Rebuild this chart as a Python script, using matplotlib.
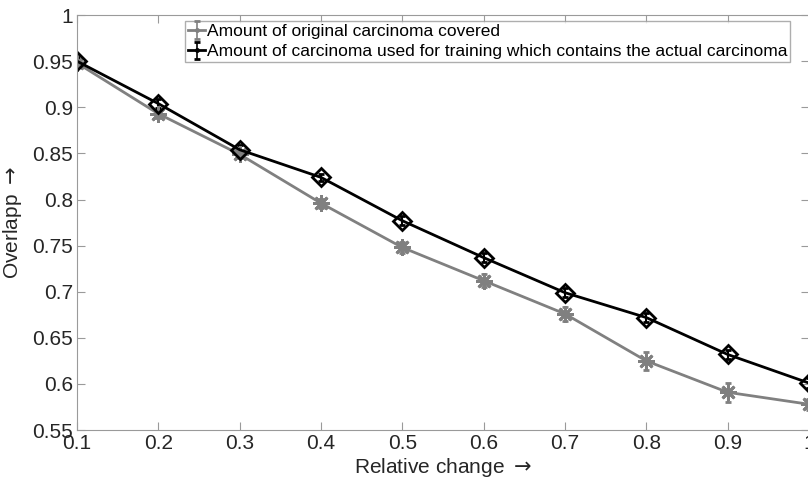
import numpy as np
import matplotlib.pyplot as plt
from matplotlib.lines import Line2D
from matplotlib.legend_handler import HandlerErrorbar
from matplotlib.container import ErrorbarContainer

plt.rcParams['font.family'] = ['Liberation Sans', 'DejaVu Sans']

rel_change = [0.1, 0.2, 0.3, 0.4, 0.5, 0.6, 0.7, 0.8, 0.9, 1.0]
covered = [0.948, 0.893, 0.849, 0.796, 0.748, 0.712, 0.676, 0.625, 0.591, 0.578]
covered_err = [0.004, 0.005, 0.004, 0.005, 0.006, 0.007, 0.008, 0.010, 0.010, 0.006]
training = [0.950, 0.904, 0.854, 0.824, 0.777, 0.737, 0.699, 0.672, 0.632, 0.601]
training_err = [0.004, 0.005, 0.005, 0.004, 0.005, 0.005, 0.005, 0.005, 0.005, 0.005]

grey = '#808080'

fig = plt.figure(figsize=(8.08, 4.86), dpi=100)
ax = fig.add_axes([0.0953, 0.115, 0.906, 0.854])

ax.errorbar(rel_change, covered, yerr=covered_err, color=grey, lw=2,
            marker=(8, 2, 0), ms=12, mew=2, capsize=2, elinewidth=1.5,
            label='Amount of original carcinoma covered')
ax.errorbar(rel_change, training, yerr=training_err, color='black', lw=2,
            marker='D', ms=9, mew=2, mfc='none', capsize=2, elinewidth=1.5,
            label='Amount of carcinoma used for training which contains the actual carcinoma')

ax.set_xlim(0.1, 1.0)
ax.set_ylim(0.55, 1.0)
ax.set_xticks(np.arange(0.1, 1.01, 0.1))
ax.set_xticklabels(['0.1', '0.2', '0.3', '0.4', '0.5', '0.6', '0.7', '0.8', '0.9', '1'])
ax.set_yticks(np.arange(0.55, 1.001, 0.05))
ax.set_yticklabels(['0.55', '0.6', '0.65', '0.7', '0.75', '0.8', '0.85', '0.9', '0.95', '1'])

for s in ax.spines.values():
    s.set_color('#9a9a9a')
ax.tick_params(direction='in', top=True, right=True, length=6, color='#9a9a9a',
               labelsize=15, labelcolor='#262626', pad=3)

ax.set_xlabel(r'Relative change $\rightarrow$', fontsize=15, color='#262626', labelpad=2)
ax.set_ylabel(r'Overlapp $\rightarrow$', fontsize=15, color='#262626', labelpad=6)


# legend entries show just the line, a dot and the error bar
def small_marker(legend_handle, orig_handle):
    legend_handle.update_from(orig_handle)
    if isinstance(legend_handle, Line2D):
        if legend_handle.get_marker() not in ('None', '', None, '_'):
            legend_handle.set_marker('.')
            legend_handle.set_markersize(5)
            legend_handle.set_markerfacecolor(orig_handle.get_color())
            legend_handle.set_markeredgewidth(1)
    else:
        legend_handle.set_linewidth(1.2)


leg = ax.legend(loc='upper left', bbox_to_anchor=(0.148, 0.985), borderaxespad=0,
                fontsize=12.5, frameon=True, fancybox=False, handlelength=1.0,
                handletextpad=0.1, borderpad=0.15, labelspacing=0.3,
                handler_map={ErrorbarContainer: HandlerErrorbar(xerr_size=0.3, yerr_size=0.5,
                                                                update_func=small_marker)})
leg.get_frame().set_edgecolor('#9a9a9a')
leg.get_frame().set_linewidth(1)

fig.savefig('out.png', dpi=100)
